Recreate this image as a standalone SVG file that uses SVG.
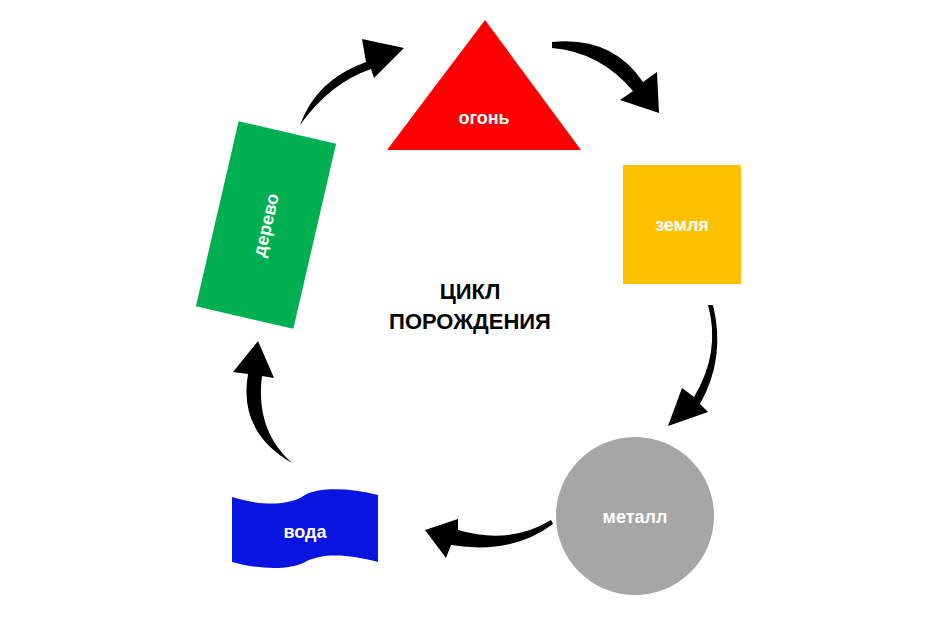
<svg xmlns="http://www.w3.org/2000/svg" width="948" height="630" viewBox="0 0 948 630">
<style>
.l{font-family:"Liberation Sans",Arial,sans-serif;font-weight:bold;font-size:18px;fill:#fff;text-anchor:middle}
.t{font-family:"Liberation Sans",Arial,sans-serif;font-weight:bold;font-size:22px;fill:#000;text-anchor:middle}
.a{fill:#000}
</style>
<rect width="948" height="630" fill="#fff"/>
<g id="connectors">
<path class="a" d="M300,125 Q316,80 366,62 L362,39 L404,48 L374,78 L371,69 Q330,83 300,125 Z"/>
<path class="a" d="M552,42 Q612,36 643,82 L657,72 L659,113 L620,100 L633,91 Q600,52 552,48 Z"/>
<path class="a" d="M708,305 Q721,352 694,397 L682,388 L668,426 L708,412 L700,404 Q726,358 713,305 Z"/>
<path class="a" d="M551,520 Q510,545 458,530 L458,519 L425,530 L446,558 L451,545 Q512,555 553,524 Z"/>
<path class="a" d="M292,463 Q255,430 262,376 L274,378 L258,341 L233,372 L248,374 Q238,432 292,463 Z"/>
</g>
<g id="fire"><polygon points="387,150 581,150 485,20" fill="#FF0000"/><text class="l" x="484" y="124">огонь</text></g>
<g id="earth"><rect x="623" y="165" width="118" height="119" fill="#FFC000"/><text class="l" x="682" y="231">земля</text></g>
<g id="metal"><circle cx="635" cy="516" r="79" fill="#A6A6A6"/><text class="l" x="635" y="523">металл</text></g>
<g id="water"><path d="M232,497 C265,507 290,505 305,495 C320,487 350,488 378,495 L378,562 C350,555 325,552 305,562 C290,570 260,570 232,562 Z" fill="#0A14E0"/><text class="l" x="305" y="538">вода</text></g>
<g id="wood" transform="translate(266,225) rotate(13)"><rect x="-50" y="-95" width="100" height="190" fill="#00B050"/><text class="l" transform="rotate(-90)" x="0" y="6">дерево</text></g>
<g id="title"><text class="t" x="470" y="299">ЦИКЛ</text><text class="t" x="470" y="329">ПОРОЖДЕНИЯ</text></g>
</svg>
